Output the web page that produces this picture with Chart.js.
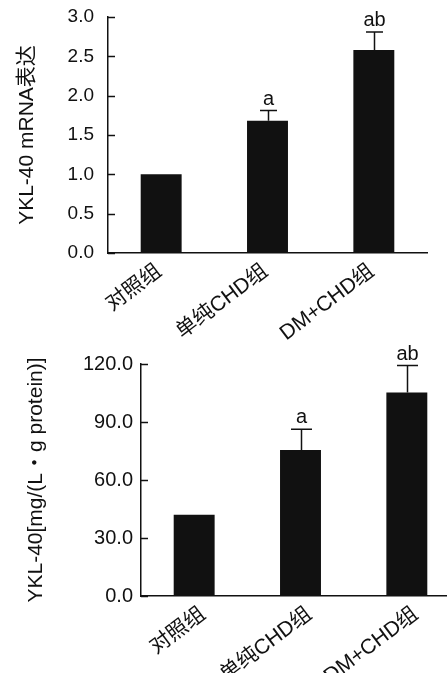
<!DOCTYPE html>
<html lang="zh">
<head>
  <meta charset="UTF-8">
  <title>YKL-40</title>
  <script src="https://cdn.jsdelivr.net/npm/chart.js"></script>
  <style>
    body { margin: 0; background: #fff; overflow: hidden; width: 447px; height: 673px; position: relative; }
    #c1 { position: absolute; left: 0; top: 0; }
    #c2 { position: absolute; left: 0; top: 340px; }
  </style>
</head>
<body>
  <canvas id="c1" width="447" height="340"></canvas>
  <canvas id="c2" width="470" height="333"></canvas>
  <script>
    const groups = ['对照组', '单纯CHD组', 'DM+CHD组'];

    // top: relative mRNA expression
    const mrnaMean = [1.0, 1.68, 2.58];
    const mrnaErr = [0, 0.13, 0.23];
    const mrnaMarks = ['', 'a', 'ab'];
    const mrnaTicks = [0, 0.5, 1.0, 1.5, 2.0, 2.5, 3.0];

    // bottom: protein level
    const protMean = [42.0, 75.5, 105.3];
    const protErr = [0, 10.8, 13.9];
    const protMarks = ['', 'a', 'ab'];
    const protTicks = [0, 30, 60, 90, 120];

    const FONT = "'Liberation Sans', 'Noto Sans CJK SC', Arial, sans-serif";
    const INK = '#111';

    Chart.defaults.font.family = FONT;
    Chart.defaults.color = INK;
    Chart.defaults.animation = false;

    // inward y ticks + error bars + significance letters
    const decor = {
      id: 'decor',
      afterDatasetsDraw(chart, args, opts) {
        var ctx = chart.ctx;
        var y = chart.scales.y;
        var area = chart.chartArea;
        ctx.save();
        ctx.strokeStyle = INK;
        ctx.lineWidth = 1.5;
        y.ticks.forEach(function(t) {
          var py = Math.round(y.getPixelForValue(t.value)) + 0.5;
          ctx.beginPath();
          ctx.moveTo(area.left, py);
          ctx.lineTo(area.left + 7, py);
          ctx.stroke();
        });
        var meta = chart.getDatasetMeta(0);
        var means = chart.data.datasets[0].data;
        meta.data.forEach(function(bar, i) {
          var e = opts.err[i];
          if (!e) return;
          var x = Math.round(bar.x) + 0.5;
          var yTop = y.getPixelForValue(means[i] + e);
          var yBar = y.getPixelForValue(means[i]);
          ctx.beginPath();
          ctx.moveTo(x, yBar);
          ctx.lineTo(x, yTop);
          ctx.moveTo(x - opts.cap / 2, yTop);
          ctx.lineTo(x + opts.cap / 2, yTop);
          ctx.stroke();
          ctx.fillStyle = INK;
          ctx.font = opts.markSize + 'px ' + FONT;
          ctx.textAlign = 'center';
          ctx.textBaseline = 'alphabetic';
          ctx.fillText(opts.marks[i], x, yTop - 6);
        });
        ctx.restore();
      }
    };

    function makeChart(id, mean, err, marks, ticks, opt) {
      return new Chart(document.getElementById(id), {
        type: 'bar',
        data: {
          labels: groups,
          datasets: [{
            data: mean,
            backgroundColor: INK,
            borderWidth: 0,
            barPercentage: 0.385,
            categoryPercentage: 1.0
          }]
        },
        plugins: [decor],
        options: {
          responsive: false,
          layout: { padding: { top: opt.top, right: opt.right, left: 0, bottom: 0 } },
          plugins: {
            legend: { display: false },
            tooltip: { enabled: false },
            decor: { err: err, marks: marks, cap: opt.cap, markSize: 20 }
          },
          scales: {
            x: {
              grid: { display: false, drawTicks: false },
              border: { display: true, color: INK, width: 1.5 },
              ticks: {
                autoSkip: false,
                minRotation: 37,
                maxRotation: 37,
                padding: 6,
                labelOffset: opt.labelOffset,
                font: { size: 21 }
              },
              afterFit: function(s) {
                s.height = opt.xh;
                s.paddingLeft = 0; s.paddingRight = 0;
              }
            },
            y: {
              min: ticks[0],
              max: ticks[ticks.length - 1],
              afterBuildTicks: function(s) { s.ticks = ticks.map(function(v) { return { value: v }; }); },
              grid: { display: false, drawTicks: false },
              border: { display: true, color: INK, width: 1.5 },
              ticks: {
                padding: opt.tickPad,
                font: { size: opt.tickSize },
                callback: function(v) { return Number(v).toFixed(1); }
              },
              title: {
                display: true,
                text: opt.title,
                font: { size: 21 },
                padding: { top: opt.titlePad, bottom: 0 }
              },
              afterFit: function(s) {
                s.width = opt.yw;
                s.paddingTop = 0; s.paddingBottom = 0;
              }
            }
          }
        }
      });
    }

    makeChart('c1', mrnaMean, mrnaErr, mrnaMarks, mrnaTicks, {
      title: 'YKL-40 mRNA表达', top: 17, right: 20, xh: 87, yw: 108,
      tickPad: 14, tickSize: 19, titlePad: 15, cap: 17, labelOffset: -2
    });
    makeChart('c2', protMean, protErr, protMarks, protTicks, {
      title: 'YKL-40[mg/(L・g protein)]', top: 24, right: 10, xh: 77, yw: 141,
      tickPad: 8, tickSize: 20, titlePad: 24, cap: 21, labelOffset: 9
    });
  </script>
</body>
</html>
